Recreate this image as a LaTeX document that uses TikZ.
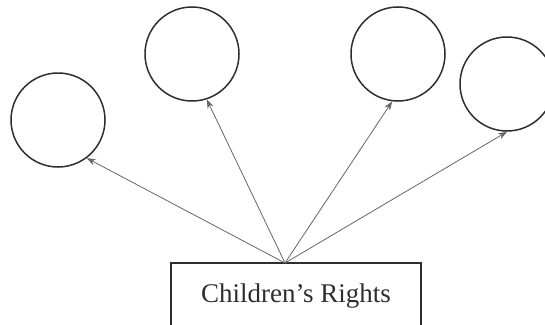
\documentclass[tikz,border=0pt]{standalone}
\usepackage{fontspec}
\setmainfont{Liberation Serif}
\usetikzlibrary{arrows.meta}
\definecolor{ink}{HTML}{2E2E2E}
\definecolor{arrowgray}{HTML}{666666}
\begin{document}
\begin{tikzpicture}[x=1pt,y=-1pt,
  ring/.style={draw=ink, line width=1.5pt, circle, minimum size=94pt, inner sep=0pt},
  rightsbox/.style={draw=ink, line width=2pt, minimum width=250pt, inner sep=0pt,
    text height=39pt, text depth=40pt, anchor=base, font=\fontsize{27}{30}\selectfont, text=ink},
  link/.style={draw=arrowgray, line width=0.8pt, -{Stealth[length=9pt,width=6.5pt]}}]
\useasboundingbox (0,0) rectangle (545,324);
\node[ring] (c1) at (58,120) {};
\node[ring] (c2) at (192,54) {};
\node[ring] (c3) at (398,54) {};
\node[ring] (c4) at (507,84) {};
\node[rightsbox] (box) at (296,302) {Children’s Rights};
\coordinate (src) at (285,263);
\draw[link] (src) -- (c1.-53);
\draw[link] (src) -- (c2.-72);
\draw[link] (src) -- (c3.-97);
\draw[link] (src) -- (c4.-90);
\end{tikzpicture}
\end{document}
